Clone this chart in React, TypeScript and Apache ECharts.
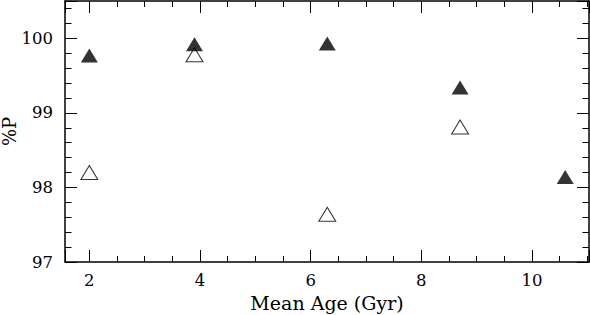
import React, { useEffect, useRef } from "react";
import * as echarts from "echarts";

const filledAges = [2.0, 3.9, 6.3, 8.7, 10.6];
const filledP = [99.77, 99.92, 99.93, 99.34, 98.14];
const openAges = [2.0, 3.9, 6.3, 8.7];
const openP = [98.2, 99.78, 97.64, 98.81];

const FONT = "DejaVu Serif";

export default function App() {
  const ref = useRef<HTMLDivElement>(null);
  useEffect(() => {
    document.body.style.margin = "0";
    const chart = echarts.init(ref.current!, null, { renderer: "svg" });
    const axisCommon = {
      splitLine: { show: false },
      axisLine: { onZero: false, lineStyle: { color: "#000", width: 1.5 } },
      axisTick: { inside: true, length: 12, lineStyle: { color: "#000", width: 1 } },
    };
    const xBase = {
      type: "value",
      min: 1.56,
      max: 11.03,
      minInterval: 2,
      maxInterval: 2,
      ...axisCommon,
      minorTick: { show: true, splitNumber: 4, length: 6, lineStyle: { color: "#000", width: 1 } },
    };
    const yBase = {
      type: "value",
      min: 97,
      max: 100.5,
      interval: 1,
      ...axisCommon,
      minorTick: { show: true, splitNumber: 5, length: 6.5, lineStyle: { color: "#000", width: 1 } },
    };
    chart.setOption({
      animation: false,
      grid: { left: 65, right: 1, top: 1, bottom: 53, containLabel: false, outerBoundsMode: "none" },
      xAxis: [
        {
          ...xBase,
          position: "bottom",
          name: "Mean Age (Gyr)",
          nameLocation: "middle",
          nameGap: 31,
          nameMoveOverlap: false,
          nameTextStyle: { fontFamily: FONT, fontSize: 19, color: "#000" },
          axisLabel: {
            fontFamily: FONT,
            fontSize: 16.5,
            color: "#000",
            margin: 10,
            showMinLabel: false,
            showMaxLabel: false,
          },
        },
        { ...xBase, position: "top", axisLabel: { show: false } },
      ],
      yAxis: [
        {
          ...yBase,
          position: "left",
          name: "%P",
          nameLocation: "middle",
          nameRotate: 90,
          nameGap: 47,
          nameMoveOverlap: false,
          nameTextStyle: { fontFamily: FONT, fontSize: 18, color: "#000" },
          axisLabel: {
            fontFamily: FONT,
            fontSize: 16.5,
            color: "#000",
            margin: 12,
            showMaxLabel: false,
          },
        },
        { ...yBase, position: "right", axisLabel: { show: false } },
      ],
      series: [
        {
          type: "scatter",
          symbol: "triangle",
          symbolSize: [17, 14],
          itemStyle: { color: "#fff", borderColor: "#000", borderWidth: 1 },
          data: openAges.map((a, i) => [a, openP[i]]),
          z: 2,
        },
        {
          type: "scatter",
          symbol: "triangle",
          symbolSize: [17, 14],
          itemStyle: { color: "#000" },
          data: filledAges.map((a, i) => [a, filledP[i]]),
          z: 3,
        },
      ],
    });
    return () => chart.dispose();
  }, []);
  return <div ref={ref} style={{ width: 590, height: 315, position: "absolute", left: 0, top: 0 }} />;
}
